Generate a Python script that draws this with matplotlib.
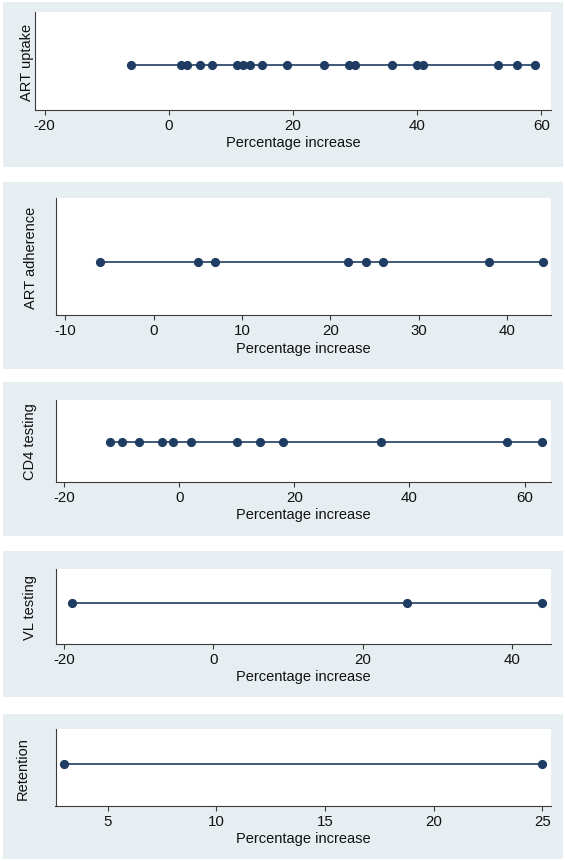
import matplotlib
matplotlib.use('Agg')
import matplotlib.pyplot as plt
from matplotlib.patches import Rectangle

plt.rcParams['font.family'] = ['Liberation Sans', 'DejaVu Sans']
plt.rcParams['axes.unicode_minus'] = False

# values (percentage increase per study)
outcomes = ['ART uptake', 'ART adherence', 'CD4 testing', 'VL testing', 'Retention']
art_uptake = [-6, 2, 3, 5, 7, 11, 12, 13, 15, 19, 25, 29, 30, 36, 40, 41, 53, 56, 59]
art_adherence = [-6, 5, 7, 22, 24, 26, 38, 44]
cd4_testing = [-12, -10, -7, -3, -1, 2, 10, 14, 18, 35, 57, 63]
vl_testing = [-19, 26, 44]
retention = [3, 25]
series = [art_uptake, art_adherence, cd4_testing, vl_testing, retention]

xticks = [[-20, 0, 20, 40, 60],
          [-10, 0, 10, 20, 30, 40],
          [-20, 0, 20, 40, 60],
          [-20, 0, 20, 40],
          [5, 10, 15, 20, 25]]
xlims = [(-21.47, 61.45), (-11.03, 44.9), (-21.5, 64.5), (-21.16, 45.2), (2.59, 25.38)]

# layout in pixels: background top/bottom, plot top, axis line, left edge, ytitle x, line height
bg_top = [3, 183, 383, 552, 715]
bg_bot = [168, 370, 537, 698, 860]
plot_top = [13, 199, 401, 570, 730]
axis_y = [111, 316, 483, 645, 807]
left_px = [35.4, 56, 55.5, 55.5, 55.5]
ytitle_x = [27, 31, 30, 30, 23]
line_frac = [0.46, 0.45, 0.49, 0.55, 0.545]

W, H = 566, 862
right_px = 550.5
BG = '#e7eef1'
NAVY = '#1f3d63'

fig = plt.figure(figsize=(W / 100, H / 100), dpi=100)
fig.patch.set_facecolor('white')


def fx(px):
    return px / W


def fy(py):
    return 1 - py / H


for i, name in enumerate(outcomes):
    fig.patches.append(Rectangle((fx(3), fy(bg_bot[i])), fx(563) - fx(3),
                                 (bg_bot[i] - bg_top[i]) / H,
                                 transform=fig.transFigure, facecolor=BG,
                                 edgecolor='none', zorder=-1))
    h_px = axis_y[i] - plot_top[i]
    ax = fig.add_axes([fx(left_px[i]), fy(axis_y[i]),
                       (right_px - left_px[i]) / W, h_px / H])
    ax.set_facecolor('white')

    vals = series[i]
    ax.plot(vals, [line_frac[i]] * len(vals), '-o', color=NAVY, lw=1.2,
            markersize=5.6, markeredgecolor=NAVY, clip_on=False)

    ax.set_xlim(*xlims[i])
    ax.set_ylim(0, 1)
    ax.set_xticks(xticks[i])
    ax.set_yticks([])
    for s in ['top', 'right']:
        ax.spines[s].set_visible(False)
    for s in ['left', 'bottom']:
        ax.spines[s].set_color('#3a3a3a')
        ax.spines[s].set_linewidth(0.8)
    ax.tick_params(axis='x', length=3.6, width=0.8, color='#3a3a3a',
                   pad=2.5, labelsize=10.8, labelcolor='#111111')

    ax.set_xlabel('Percentage increase', fontsize=10.5, color='#111111', va='center')
    ax.xaxis.set_label_coords(0.5, -32.5 / h_px)
    ax.set_ylabel(name, fontsize=10.5, color='#111111', va='center')
    ax.yaxis.set_label_coords(fx(ytitle_x[i]), fy((plot_top[i] + axis_y[i]) / 2),
                              transform=fig.transFigure)

fig.savefig('out.png', dpi=100, facecolor='white')
